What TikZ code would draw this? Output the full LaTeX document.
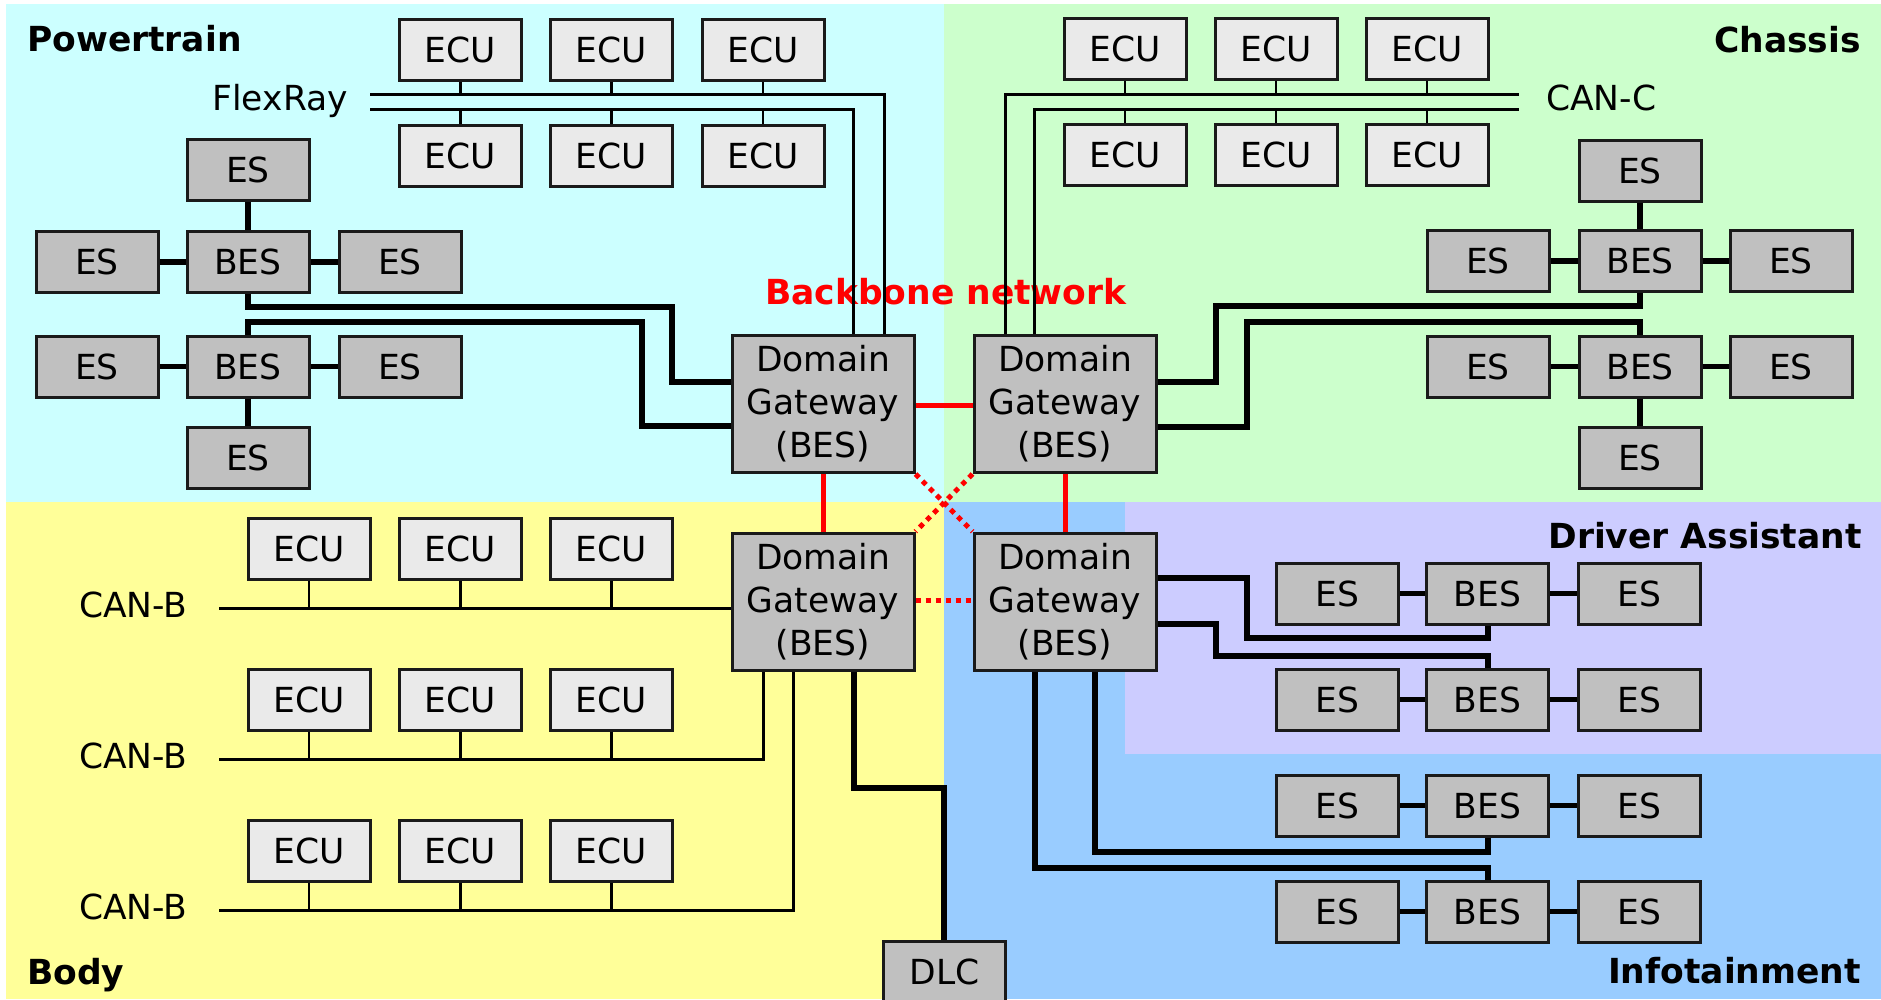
\documentclass[tikz,border=0pt]{standalone}
\usepackage{fontspec}
\setmainfont{DejaVu Sans}
\newcommand\boxfont{\fontsize{34.5}{43}\selectfont}
\newcommand\regionfont{\fontsize{34.5}{43}\selectfont\bfseries}
\definecolor{cyanbg}{HTML}{CCFFFF}
\definecolor{greenbg}{HTML}{CCFFCC}
\definecolor{yellowbg}{HTML}{FFFF99}
\definecolor{bluebg}{HTML}{99CCFF}
\definecolor{lavbg}{HTML}{CCCCFF}
\definecolor{ecufill}{HTML}{EAEAEA}
\definecolor{esfill}{HTML}{C0C0C0}
\definecolor{boxline}{HTML}{1A1A1A}
\definecolor{bbred}{HTML}{FF0000}
\begin{document}
\begin{tikzpicture}[x=1pt,y=-1pt,
  box/.style={rectangle, draw=boxline, line width=3pt, minimum width=122pt, minimum height=61pt, inner sep=0pt, font=\boxfont},
  ecu/.style={box, fill=ecufill},
  es/.style={box, fill=esfill},
  gw/.style={box, fill=esfill, minimum width=182pt, minimum height=137pt, align=center},
  bus/.style={line width=3pt, draw=black},
  stub/.style={line width=2.5pt, draw=black},
  link/.style={line width=6pt, draw=black},
  eslink/.style={line width=5.5pt, draw=black},
  bb/.style={line width=5pt, draw=bbred},
  bbdot/.style={bb, dash pattern=on 5pt off 5pt},
  region/.style={font=\regionfont, inner sep=0pt},
  buslabel/.style={font=\boxfont, inner sep=0pt}
]
\useasboundingbox (0,0) rectangle (1881,999);
\fill[white] (0,0) rectangle (1881,999);
\fill[cyanbg] (6,4) rectangle (944,502);
\fill[greenbg] (944,4) rectangle (1881,502);
\fill[yellowbg] (6,502) rectangle (944,999);
\fill[bluebg] (944,502) rectangle (1881,999);
\fill[lavbg] (1125,502) rectangle (1881,754);

% region labels
\node[region, anchor=base west] (lpt) at (27,51) {Powertrain};
\node[region, anchor=base east] (lch) at (1861,52) {Chassis};
\node[region, anchor=base east] (lda) at (1862,548) {Driver Assistant};
\node[region, anchor=base east] (lin) at (1861,983) {Infotainment};
\node[region, anchor=base west] (lbo) at (27,984) {Body};
\node[region, anchor=base west, text=bbred] (lbb) at (765,304) {Backbone network};

% gateways
\node[gw] (ptgw) at (823,404) {Domain\\Gateway\\(BES)};
\node[gw] (chgw) at (1065,404) {Domain\\Gateway\\(BES)};
\node[gw] (bogw) at (823,601.5) {Domain\\Gateway\\(BES)};
\node[gw] (ingw) at (1065,601.5) {Domain\\Gateway\\(BES)};

% Powertrain ECUs
\node[ecu] (pe1) at (460.5,50) {ECU};
\node[ecu] (pe2) at (611.5,50) {ECU};
\node[ecu] (pe3) at (763,50) {ECU};
\node[ecu] (pe4) at (460.5,155.5) {ECU};
\node[ecu] (pe5) at (611.5,155.5) {ECU};
\node[ecu] (pe6) at (763,155.5) {ECU};
\node[buslabel, anchor=base east] (lfr) at (348,110) {FlexRay};
\coordinate (fr1) at (370,94);
\coordinate (fr2) at (370,109);
\draw[bus] (fr1) -- (884,94) -- (ptgw.north -| 884,0);
\draw[bus] (fr2) -- (853,109) -- (ptgw.north -| 853,0);
\foreach \n in {pe1,pe2,pe3} \draw[stub] (\n.south) -- (\n.south |- fr1);
\foreach \n in {pe4,pe5,pe6} \draw[stub] (\n.north) -- (\n.north |- fr2);

% Chassis ECUs
\node[ecu] (ce1) at (1125,49) {ECU};
\node[ecu] (ce2) at (1276,49) {ECU};
\node[ecu] (ce3) at (1427,49) {ECU};
\node[ecu] (ce4) at (1125,155) {ECU};
\node[ecu] (ce5) at (1276,155) {ECU};
\node[ecu] (ce6) at (1427,155) {ECU};
\node[buslabel, anchor=base west] (lcc) at (1546,110) {CAN-C};
\coordinate (cc1) at (1519,94);
\coordinate (cc2) at (1519,109);
\draw[bus] (chgw.north -| 1005,0) -- (1005,94) -- (cc1);
\draw[bus] (chgw.north -| 1034,0) -- (1034,109) -- (cc2);
\foreach \n in {ce1,ce2,ce3} \draw[stub] (\n.south) -- (\n.south |- cc1);
\foreach \n in {ce4,ce5,ce6} \draw[stub] (\n.north) -- (\n.north |- cc2);

% Powertrain ES clusters
\node[es] (pa0) at (248,170) {ES};
\node[es] (pa1) at (248,262) {BES};
\node[es] (pa2) at (97,262) {ES};
\node[es] (pa3) at (400,262) {ES};
\node[es] (pb1) at (248,366.5) {BES};
\node[es] (pb2) at (97,366.5) {ES};
\node[es] (pb3) at (400,366.5) {ES};
\node[es] (pb0) at (248,457.5) {ES};
\draw[eslink] (pa0) -- (pa1); \draw[eslink] (pa2) -- (pa1); \draw[eslink] (pa1) -- (pa3);
\draw[eslink] (pb2) -- (pb1); \draw[eslink] (pb1) -- (pb3); \draw[eslink] (pb1) -- (pb0);
\draw[link] (pa1.south) -- (248,307) -- (672,307) -- (672,382) -- (ptgw.west |- 0,382);
\draw[link] (pb1.north) -- (248,322) -- (642,322) -- (642,426) -- (ptgw.west |- 0,426);

% Chassis ES clusters
\node[es] (ca0) at (1640,170.5) {ES};
\node[es] (ca1) at (1640,261) {BES};
\node[es] (ca2) at (1488,261) {ES};
\node[es] (ca3) at (1791,261) {ES};
\node[es] (cb1) at (1640,366.5) {BES};
\node[es] (cb2) at (1488,366.5) {ES};
\node[es] (cb3) at (1791,366.5) {ES};
\node[es] (cb0) at (1640,457.5) {ES};
\draw[eslink] (ca0) -- (ca1); \draw[eslink] (ca2) -- (ca1); \draw[eslink] (ca1) -- (ca3);
\draw[eslink] (cb2) -- (cb1); \draw[eslink] (cb1) -- (cb3); \draw[eslink] (cb1) -- (cb0);
\draw[link] (ca1.south) -- (1640,306) -- (1216,306) -- (1216,382) -- (chgw.east |- 0,382);
\draw[link] (cb1.north) -- (1640,322) -- (1247,322) -- (1247,427) -- (chgw.east |- 0,427);

% Body ECUs
\node[ecu] (be1) at (309,548.5) {ECU};
\node[ecu] (be2) at (460.5,548.5) {ECU};
\node[ecu] (be3) at (611.5,548.5) {ECU};
\node[ecu] (be4) at (309,699.5) {ECU};
\node[ecu] (be5) at (460.5,699.5) {ECU};
\node[ecu] (be6) at (611.5,699.5) {ECU};
\node[ecu] (be7) at (309,850.5) {ECU};
\node[ecu] (be8) at (460.5,850.5) {ECU};
\node[ecu] (be9) at (611.5,850.5) {ECU};
\node[buslabel, anchor=base west] (lcb1) at (79,617) {CAN-B};
\node[buslabel, anchor=base west] (lcb2) at (79,768) {CAN-B};
\node[buslabel, anchor=base west] (lcb3) at (79,919) {CAN-B};
\coordinate (cb1s) at (219,608);
\coordinate (cb2s) at (219,759);
\coordinate (cb3s) at (219,910);
\draw[bus] (cb1s) -- (bogw.west |- 0,608);
\draw[bus] (cb2s) -- (763,759) -- (bogw.south -| 763,0);
\draw[bus] (cb3s) -- (793,910) -- (bogw.south -| 793,0);
\foreach \n in {be1,be2,be3} \draw[stub] (\n.south) -- (\n.south |- cb1s);
\foreach \n in {be4,be5,be6} \draw[stub] (\n.south) -- (\n.south |- cb2s);
\foreach \n in {be7,be8,be9} \draw[stub] (\n.south) -- (\n.south |- cb3s);

% DLC
\node[es] (dlc) at (944.5,971.5) {DLC};
\draw[link] (bogw.south -| 854,0) -- (854,788) -- (944,788) -- (dlc.north -| 944,0);

% Driver Assistant / Infotainment clusters
\node[es] (da1) at (1487.5,593.5) {BES};
\node[es] (da2) at (1337.5,593.5) {ES};
\node[es] (da3) at (1639.5,593.5) {ES};
\node[es] (db1) at (1487.5,699.5) {BES};
\node[es] (db2) at (1337.5,699.5) {ES};
\node[es] (db3) at (1639.5,699.5) {ES};
\node[es] (ia1) at (1487.5,805.5) {BES};
\node[es] (ia2) at (1337.5,805.5) {ES};
\node[es] (ia3) at (1639.5,805.5) {ES};
\node[es] (ib1) at (1487.5,911.5) {BES};
\node[es] (ib2) at (1337.5,911.5) {ES};
\node[es] (ib3) at (1639.5,911.5) {ES};
\foreach \p in {da,db,ia,ib} {
  \draw[eslink] (\p2) -- (\p1);
  \draw[eslink] (\p1) -- (\p3);
}
\draw[link] (ingw.east |- 0,578) -- (1247,578) -- (1247,638) -- (1487.5,638) -- (da1.south);
\draw[link] (ingw.east |- 0,624) -- (1216,624) -- (1216,656) -- (1487.5,656) -- (db1.north);
\draw[link] (ingw.south -| 1095,0) -- (1095,852) -- (1487.5,852) -- (ia1.south);
\draw[link] (ingw.south -| 1035,0) -- (1035,868) -- (1487.5,868) -- (ib1.north);

% backbone
\draw[bb] (ptgw.east |- 0,405) -- (chgw.west |- 0,405);
\draw[bb] (ptgw.south) -- (bogw.north);
\draw[bb] (chgw.south) -- (ingw.north);
\draw[bbdot] (bogw.east |- 0,600) -- (ingw.west |- 0,600);
\draw[bbdot] (ptgw.south east) -- (ingw.north west);
\draw[bbdot] (chgw.south west) -- (bogw.north east);
\end{tikzpicture}
\end{document}
